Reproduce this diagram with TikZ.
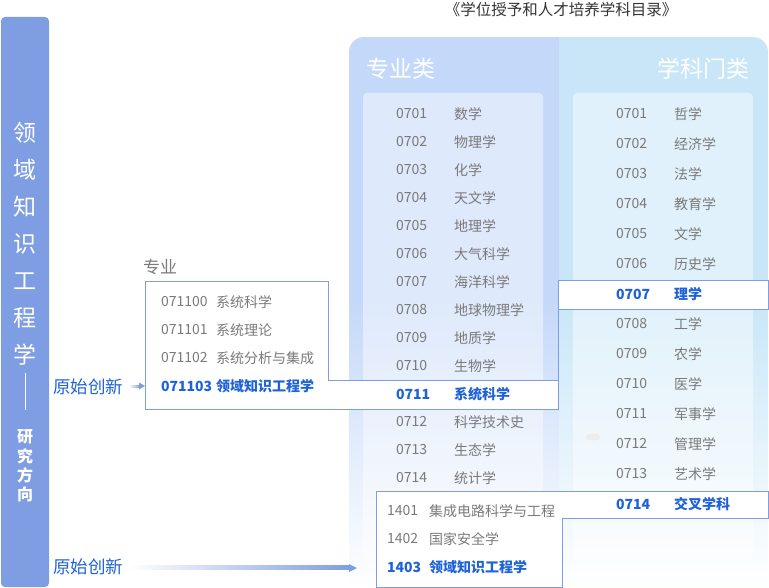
\documentclass[tikz,border=0pt]{standalone}
\usepackage{fontspec}
\setmainfont{Noto Sans CJK SC}
\usetikzlibrary{calc}
\definecolor{barblue}{HTML}{7F9DE2}
\definecolor{hlblue}{HTML}{1E62D8}
\definecolor{txtgray}{HTML}{7A7A7A}
\definecolor{titlegray}{HTML}{333333}
\definecolor{leftpanel}{HTML}{C4D8F9}
\definecolor{rightpanel}{HTML}{C8E6F8}
\tikzset{
  lst/.style={anchor=west, font=\fontsize{14}{16}\selectfont, text=txtgray},
  lsthl/.style={anchor=west, font=\fontsize{14}{16}\selectfont\bfseries, text=hlblue},
  bartxt/.style={font=\fontsize{23}{25}\selectfont, text=white},
  barsmall/.style={font=\fontsize{16}{18}\selectfont\bfseries, text=white},
  hlbox/.style={draw=barblue, fill=white, line width=1pt},
  hlline/.style={draw=barblue, line width=1pt},
  origtxt/.style={font=\fontsize{17.5}{19}\selectfont, text=hlblue},
  headtxt/.style={font=\fontsize{23}{25}\selectfont, text=white},
}
\begin{document}
\begin{tikzpicture}[x=1pt,y=-1pt, every node/.style={inner sep=0pt, outer sep=0pt}]
\useasboundingbox (0,0) rectangle (769,588);

% left vertical bar
\fill[barblue, rounded corners=4pt] (1,17) rectangle (49,587);
\foreach \c [count=\i] in {领,域,知,识,工,程,学}
  \node[bartxt] (bar\i) at (25,{133+37*(\i-1)}) {\c};
\draw[white, line width=1pt] (25,373) -- (25,410);
\foreach \c [count=\i] in {研,究,方,向}
  \node[barsmall] (bars\i) at (25,{437+19.3*(\i-1)}) {\c};

% title
\node[font=\fontsize{15.5}{17}\selectfont, text=titlegray] (title) at (561,10) {《学位授予和人才培养学科目录》};

% panel
\begin{scope}
  \clip[rounded corners=15pt] (349,588) -- (349,37) -- (768,37) [sharp corners] -- (768,588) -- cycle;
  \fill[leftpanel] (349,37) rectangle (559,300);
  \fill[rightpanel] (559,37) rectangle (768,300);
  \shade[top color=leftpanel, bottom color=white] (349,299) rectangle (559,588);
  \shade[top color=rightpanel, bottom color=white] (559,299) rectangle (768,588);
\end{scope}
\fill[white, opacity=0.45, rounded corners=4pt] (363,93) rectangle (543,560);
\fill[white, opacity=0.45, rounded corners=4pt] (573,93) rectangle (753,560);
\fill[gray!15] (593,437) ellipse (7 and 3.5);

\node[headtxt, anchor=west] (hleft) at (366,69) {专业类};
\node[headtxt, anchor=east] (hright) at (749,69) {学科门类};

% highlight outlines
\path[hlbox] (145,282) -- (328,282) -- (328,380) -- (558,380) -- (558,409) -- (145,409) -- cycle;
\path[hlbox] (558,281) rectangle (768,310);
\draw[hlline] (558,310) -- (558,380);
\path[hlbox] (376,491) -- (768,491) -- (768,518) -- (562,518) -- (562,587) -- (376,587) -- cycle;

% left list
\foreach \code/\name/\st [count=\i] in {
  0701/数学/lst, 0702/物理学/lst, 0703/化学/lst, 0704/天文学/lst,
  0705/地理学/lst, 0706/大气科学/lst, 0707/海洋科学/lst, 0708/地球物理学/lst,
  0709/地质学/lst, 0710/生物学/lst, 0711/系统科学/lsthl, 0712/科学技术史/lst,
  0713/生态学/lst, 0714/统计学/lst}
{
  \node[style=\st] (lc\i) at (396,{86+28*\i}) {\code};
  \node[style=\st] (ln\i) at (454,{86+28*\i}) {\name};
}

% right list
\foreach \code/\name/\st [count=\i] in {
  0701/哲学/lst, 0702/经济学/lst, 0703/法学/lst, 0704/教育学/lst,
  0705/文学/lst, 0706/历史学/lst, 0707/理学/lsthl, 0708/工学/lst,
  0709/农学/lst, 0710/医学/lst, 0711/军事学/lst, 0712/管理学/lst,
  0713/艺术学/lst, 0714/交叉学科/lsthl}
{
  \node[style=\st] (rc\i) at (616,{84+30*\i}) {\code};
  \node[style=\st] (rn\i) at (674,{84+30*\i}) {\name};
}

% major box
\node[anchor=west, font=\fontsize{17}{19}\selectfont, text=txtgray] (zy) at (143,267) {专业};
\foreach \code/\name/\st [count=\i] in {
  071100/系统科学/lst, 071101/系统理论/lst, 071102/系统分析与集成/lst, 071103/领域知识工程学/lsthl}
{
  \node[style=\st] (mc\i) at (161,{274+28*\i}) {\code};
  \node[style=\st] (mn\i) at (216,{274+28*\i}) {\name};
}

% bottom box
\foreach \code/\name/\st [count=\i] in {
  1401/集成电路科学与工程/lst, 1402/国家安全学/lst, 1403/领域知识工程学/lsthl}
{
  \node[style=\st] (bc\i) at (387,{483+28*\i}) {\code};
  \node[style=\st] (bn\i) at (429,{483+28*\i}) {\name};
}

% origin labels and arrows
\node[origtxt] (orig1) at (88,387) {原始创新};
\node[origtxt] (orig2) at (88,567) {原始创新};
\coordinate (box1w) at (145,386);
\coordinate (box2w) at (357,568);
\shade[left color=white, right color=barblue] ($(orig1.east)+(6,-1.4)$) rectangle ($(box1w)+(-5,1.4)$);
\fill[barblue] ($(box1w)+(-6,-3.5)$) -- (box1w) -- ($(box1w)+(-6,3.5)$) -- cycle;
\shade[left color=white, right color=barblue] ($(orig2.east)+(6,-1.7)$) rectangle ($(box2w)+(-7,1.7)$);
\fill[barblue] ($(box2w)+(-8,-4)$) -- (box2w) -- ($(box2w)+(-8,4)$) -- cycle;
\end{tikzpicture}
\end{document}
